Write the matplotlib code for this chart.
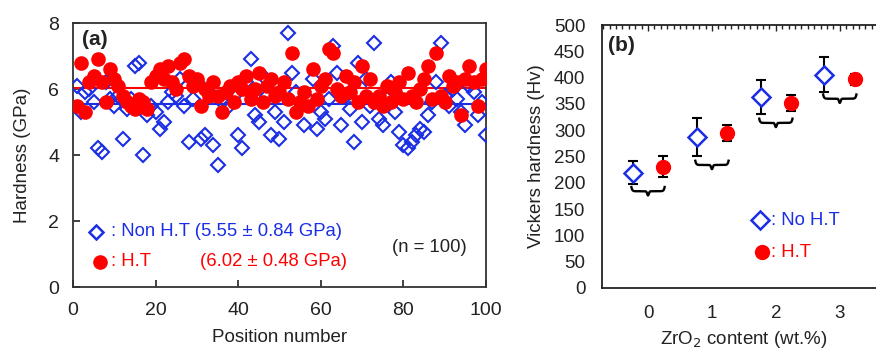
import numpy as np
import matplotlib
matplotlib.use("Agg")
import matplotlib.pyplot as plt
from matplotlib.ticker import MultipleLocator

plt.rcParams['font.family'] = ['Liberation Sans', 'DejaVu Sans']

# hardness at each position (GPa)
position = list(range(1, 101))
hard_non_ht = [6.1, 5.3, 5.9, 6.0, 5.6, 4.2, 4.1, 6.2, 5.7, 5.5, 5.8, 4.5, 5.4, 5.7, 6.7,
               6.8, 4.0, 5.2, 5.5, 5.3, 4.8, 5.0, 5.6, 5.9, 5.8, 6.3, 5.5, 4.4, 5.7, 6.2,
               4.5, 4.6, 5.9, 4.3, 3.7, 5.6, 5.4, 6.0, 5.8, 4.6, 4.2, 6.2, 6.9, 5.2, 5.0,
               6.4, 5.8, 4.6, 5.3, 4.5, 5.0, 7.7, 6.5, 5.9, 5.6, 4.9, 5.7, 6.3, 4.8, 5.3,
               5.1, 5.7, 7.3, 6.5, 4.9, 5.8, 5.4, 4.4, 6.8, 5.0, 6.3, 5.5, 7.4, 5.1, 4.9,
               5.7, 6.2, 5.3, 4.7, 4.3, 4.2, 4.4, 4.6, 4.8, 4.7, 5.2, 5.6, 6.2, 7.4, 5.8,
               5.5, 6.0, 5.7, 5.3, 4.9, 6.1, 5.9, 5.2, 5.6, 4.6]
hard_ht = [5.5, 6.8, 5.3, 6.2, 6.4, 6.9, 6.2, 5.6, 6.6, 6.3, 6.1, 5.8, 5.6, 5.5, 5.4,
           5.7, 5.6, 5.4, 6.2, 6.4, 6.6, 6.3, 6.7, 6.2, 6.0, 6.8, 6.9, 6.4, 6.1, 6.3,
           5.5, 6.0, 5.8, 6.2, 5.8, 5.3, 5.9, 6.1, 5.6, 6.2, 6.0, 6.4, 5.7, 6.0, 6.5,
           5.6, 6.1, 6.3, 5.8, 5.9, 6.2, 5.7, 7.1, 5.3, 5.6, 5.9, 5.5, 6.6, 5.7, 6.1,
           6.3, 7.2, 7.1, 6.0, 5.8, 6.4, 5.9, 6.2, 5.6, 6.7, 5.8, 6.3, 5.6, 5.8, 5.5,
           6.1, 5.6, 5.9, 6.2, 5.7, 6.5, 5.8, 5.6, 6.0, 6.3, 6.7, 5.7, 7.1, 5.8, 5.6,
           6.4, 6.1, 6.2, 5.2, 6.3, 6.7, 6.2, 5.5, 6.3, 6.6]
mean_non_ht = 5.55
mean_ht = 6.02

# Vickers hardness vs ZrO2 content
zro2 = [0, 1, 2, 3]
hv_non_ht = [219, 287, 363, 406]
err_non_ht = [22, 36, 32, 33]
hv_ht = [231, 295, 352, 397]
err_ht = [20, 15, 16, 10]
brace_level = [184, 234, 314, 360]

blue = '#1a2ee6'
red = '#ff0000'
dark = '#222222'

fig = plt.figure(figsize=(8.76, 3.51), dpi=100)

# ---- panel (a)
ax1 = fig.add_axes([0.0833, 0.1823, 0.4715, 0.752])
ax1.plot(position, hard_non_ht, 'D', ms=7.5, mfc='none', mec=blue, mew=1.5, zorder=3)
ax1.plot(position, hard_ht, 'o', ms=9.5, color=red, mec=red, zorder=4)
ax1.axhline(mean_ht, color=red, lw=1.5, zorder=2)
ax1.axhline(mean_non_ht, color=blue, lw=1.5, zorder=2)
ax1.set_xlim(0, 100)
ax1.set_ylim(0, 8)
ax1.set_xticks([0, 20, 40, 60, 80, 100])
ax1.set_yticks([0, 2, 4, 6, 8])
ax1.tick_params(direction='in', length=5, width=1.2, labelsize=14, colors=dark)
ax1.tick_params(axis='x', pad=11)
ax1.tick_params(axis='y', pad=10)
for s in ax1.spines.values():
    s.set_linewidth(1.3)
    s.set_color('#333333')
ax1.set_xlabel("Position number", fontsize=13.5, color=dark, labelpad=7)
ax1.set_ylabel("Hardness (GPa)", fontsize=13.5, color=dark, labelpad=12)
ax1.text(2.2, 7.5, "(a)", fontsize=15, fontweight='bold', color=dark, va='center')
ax1.plot([5.5], [1.67], 'D', ms=7.5, mfc='none', mec=blue, mew=1.8, clip_on=False)
ax1.text(9.3, 1.67, ": Non H.T (5.55 \u00b1 0.84 GPa)", fontsize=13.3, color=blue, va='center')
ax1.plot([6.5], [0.76], 'o', ms=9.5, color=red, clip_on=False)
ax1.text(9.3, 0.76, ": H.T", fontsize=13.3, color=red, va='center')
ax1.text(30.7, 0.76, "(6.02 \u00b1 0.48 GPa)", fontsize=13.3, color=red, va='center')
ax1.text(95.4, 1.2, "(n = 100)", fontsize=13.3, color=dark, va='center', ha='right')

# ---- panel (b)
ax2 = fig.add_axes([0.6872, 0.1795, 0.324, 0.749])
off = 0.24
x_non = [x - off for x in zro2]
x_ht = [x + off for x in zro2]
ax2.errorbar(x_non, hv_non_ht, yerr=err_non_ht, fmt='none', ecolor='black',
             elinewidth=1.5, capsize=3.5, capthick=1.5, zorder=2)
ax2.errorbar(x_ht, hv_ht, yerr=err_ht, fmt='none', ecolor='black',
             elinewidth=1.5, capsize=3.5, capthick=1.5, zorder=2)
ax2.plot(x_non, hv_non_ht, 'D', ms=9, mfc='white', mec=blue, mew=1.8, zorder=3)
ax2.plot(x_ht, hv_ht, 'o', ms=10, color=red, zorder=3)

# curly braces under each pair
for x, y in zip(zro2, brace_level):
    x0, x1 = x - off - 0.02, x + off + 0.02
    t = np.linspace(0, 1, 300)
    bx = x0 + (x1 - x0) * t
    # hooked ends and a small dip in the middle
    end = 8 * (np.exp(-t / 0.025) + np.exp(-(1 - t) / 0.025))
    dip = -8 * np.exp(-((t - 0.5) / 0.035) ** 2)
    ax2.plot(bx, y + end + dip, color='black', lw=1.7, zorder=2)

ax2.set_xlim(-0.72, 3.72)
ax2.set_ylim(0, 500)
ax2.set_xticks(zro2)
ax2.yaxis.set_major_locator(MultipleLocator(50))
ax2.xaxis.set_minor_locator(MultipleLocator(0.1))
ax2.tick_params(axis='x', which='both', bottom=False, top=True, direction='in',
                labelsize=13.5, pad=12, colors=dark)
ax2.tick_params(axis='x', which='minor', length=3, width=1)
ax2.tick_params(axis='x', which='major', length=4, width=1)
ax2.tick_params(axis='y', direction='in', length=0, labelsize=13.5, pad=12, colors=dark)
for s in ax2.spines.values():
    s.set_linewidth(1.3)
    s.set_color(dark)
ax2.set_xlabel("ZrO$_2$ content (wt.%)", fontsize=13.5, color=dark, labelpad=5)
ax2.set_ylabel("Vickers hardness (Hv)", fontsize=13.5, color=dark, labelpad=6)
ax2.text(-0.62, 462, "(b)", fontsize=15, fontweight='bold', color=dark, va='center')
ax2.plot([1.75], [129], 'D', ms=9, mfc='white', mec=blue, mew=1.8, zorder=3)
ax2.text(1.93, 129, ": No H.T", fontsize=13.3, color=blue, va='center')
ax2.plot([1.78], [68], 'o', ms=10, color=red, zorder=3)
ax2.text(1.93, 68, ": H.T", fontsize=13.3, color=red, va='center')

plt.savefig("out.png", dpi=100)
